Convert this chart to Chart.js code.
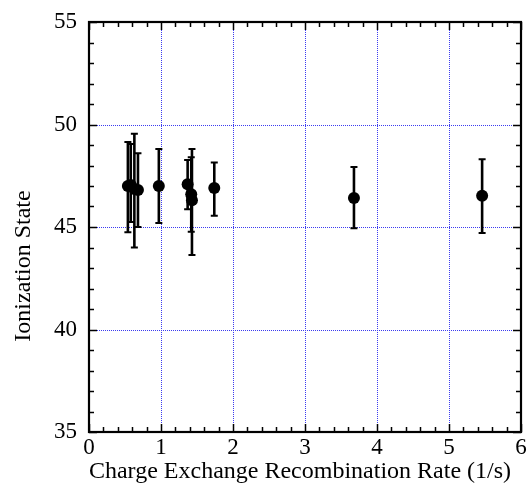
<!DOCTYPE html>
<html>
<head>
<meta charset="utf-8">
<script src="https://cdn.jsdelivr.net/npm/chart.js@4/dist/chart.umd.min.js"></script>
<style>
  html, body { margin: 0; padding: 0; background: #fff; }
  canvas { display: block; }
</style>
</head>
<body>
<canvas id="chart" width="532" height="485"></canvas>
<script>
// charge exchange recombination rate (1/s) vs ionization state
const rate = [0.54, 0.58, 0.63, 0.68, 0.97, 1.37, 1.42, 1.43, 1.74, 3.68, 5.46]
const ionState = [47.0, 47.05, 46.85, 46.8, 47.0, 47.08, 46.6, 46.3, 46.9, 46.42, 46.52]
const ionUpper = [49.15, 49.05, 49.55, 48.6, 48.8, 48.27, 48.4, 48.8, 48.15, 47.93, 48.3]
const ionLower = [44.75, 45.25, 44.0, 45.0, 45.2, 45.86, 44.77, 43.63, 45.55, 44.94, 44.71]

const xTicks = [0, 1, 2, 3, 4, 5, 6]
const yTicks = [35, 40, 45, 50, 55]
const xMinorStep = 0.2
const yMinorStep = 1

const xTitle = 'Charge Exchange Recombination Rate (1/s)'
const yTitle = 'Ionization State'

const serif = "'Liberation Serif', 'Times New Roman', serif"

// dotted grid lines behind the points
const gridPlugin = {
    id: 'grid',
    beforeDatasetsDraw(chart) {
        const { ctx, chartArea: a, scales: { x, y } } = chart
        ctx.save()
        ctx.strokeStyle = '#3c3cf0'
        ctx.lineWidth = 1
        ctx.setLineDash([1, 1])
        xTicks.slice(1, -1).forEach(v => {
            const px = Math.round(x.getPixelForValue(v)) + 0.5
            ctx.beginPath()
            ctx.moveTo(px, a.top)
            ctx.lineTo(px, a.bottom)
            ctx.stroke()
        })
        yTicks.slice(1, -1).forEach(v => {
            const py = Math.round(y.getPixelForValue(v)) + 0.5
            ctx.beginPath()
            ctx.moveTo(a.left, py)
            ctx.lineTo(a.right, py)
            ctx.stroke()
        })
        ctx.restore()
    }
}

// vertical error bars with caps
const errorBarPlugin = {
    id: 'errorBars',
    afterDatasetsDraw(chart) {
        const { ctx, scales: { x, y } } = chart
        ctx.save()
        ctx.strokeStyle = '#000'
        rate.forEach((r, i) => {
            const px = x.getPixelForValue(r)
            const top = y.getPixelForValue(ionUpper[i])
            const bot = y.getPixelForValue(ionLower[i])
            ctx.lineWidth = 2.6
            ctx.beginPath()
            ctx.moveTo(px, top)
            ctx.lineTo(px, bot)
            ctx.stroke()
            ctx.lineWidth = 2
            ctx.beginPath()
            ctx.moveTo(px - 3.5, top)
            ctx.lineTo(px + 3.5, top)
            ctx.moveTo(px - 3.5, bot)
            ctx.lineTo(px + 3.5, bot)
            ctx.stroke()
        })
        ctx.restore()
    }
}

// frame, inward ticks and axis titles
const framePlugin = {
    id: 'frame',
    afterDraw(chart) {
        const { ctx, chartArea: a, scales: { x, y } } = chart
        ctx.save()
        ctx.strokeStyle = '#000'
        ctx.lineWidth = 1.5
        ctx.beginPath()
        for (let v = xTicks[0]; v <= xTicks[xTicks.length - 1] + 1e-9; v += xMinorStep) {
            const major = Math.abs(v - Math.round(v)) < 1e-6
            const len = major ? 8 : 5
            const px = Math.round(x.getPixelForValue(v)) + 0.5
            ctx.moveTo(px, a.bottom)
            ctx.lineTo(px, a.bottom - len)
            ctx.moveTo(px, a.top)
            ctx.lineTo(px, a.top + len)
        }
        for (let v = yTicks[0]; v <= yTicks[yTicks.length - 1]; v += yMinorStep) {
            const len = v % 5 === 0 ? 8 : 5
            const py = Math.round(y.getPixelForValue(v)) + 0.5
            ctx.moveTo(a.left, py)
            ctx.lineTo(a.left + len, py)
            ctx.moveTo(a.right, py)
            ctx.lineTo(a.right - len, py)
        }
        ctx.stroke()

        ctx.lineWidth = 2.2
        ctx.strokeRect(a.left, a.top, a.right - a.left, a.bottom - a.top)

        ctx.fillStyle = '#000'
        ctx.font = '24px ' + serif
        ctx.textAlign = 'center'
        ctx.textBaseline = 'alphabetic'
        ctx.fillText(xTitle, 300, 478)

        ctx.translate(30, 266)
        ctx.rotate(-Math.PI / 2)
        ctx.fillText(yTitle, 0, 0)
        ctx.restore()
    }
}

new Chart(document.getElementById('chart'), {
    type: 'scatter',
    data: {
        datasets: [{
            data: rate.map((r, i) => ({ x: r, y: ionState[i] })),
            backgroundColor: '#000',
            borderColor: '#000',
            pointRadius: 6,
            pointHoverRadius: 6,
            borderWidth: 0
        }]
    },
    options: {
        responsive: false,
        animation: false,
        devicePixelRatio: 1,
        layout: { padding: { left: 0, top: 22, right: 11, bottom: 0 } },
        plugins: { legend: { display: false }, tooltip: { enabled: false } },
        scales: {
            x: {
                type: 'linear',
                min: xTicks[0],
                max: xTicks[xTicks.length - 1],
                afterFit: s => { s.height = 53; s.paddingLeft = 0; s.paddingRight = 0 },
                afterBuildTicks: s => { s.ticks = xTicks.map(v => ({ value: v })) },
                grid: { display: false, drawTicks: false },
                border: { display: false },
                ticks: { color: '#000', font: { family: serif, size: 23 }, padding: 2, maxRotation: 0 }
            },
            y: {
                type: 'linear',
                min: yTicks[0],
                max: yTicks[yTicks.length - 1],
                afterFit: s => { s.width = 89; s.paddingTop = 0; s.paddingBottom = 0 },
                afterBuildTicks: s => { s.ticks = yTicks.map(v => ({ value: v })) },
                grid: { display: false, drawTicks: false },
                border: { display: false },
                ticks: { color: '#000', font: { family: serif, size: 23 }, padding: 12 }
            }
        }
    },
    plugins: [gridPlugin, errorBarPlugin, framePlugin]
})
</script>
</body>
</html>
